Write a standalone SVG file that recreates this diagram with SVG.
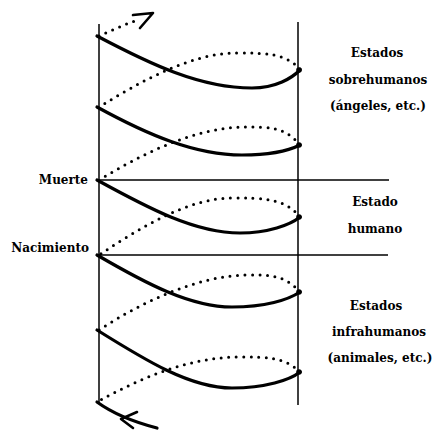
<svg xmlns="http://www.w3.org/2000/svg" width="433" height="430" viewBox="0 0 433 430">
<style>
.bg{fill:#fff}
.ax{stroke:#000;stroke-width:1.5;fill:none}
.hl{stroke:#000;stroke-width:1.3;fill:none}
.front{stroke:#000;stroke-width:3.2;fill:none;stroke-linecap:round;stroke-linejoin:round}
.back{stroke:#000;stroke-width:3;fill:none;stroke-linecap:round;stroke-dasharray:0 7.5}
.dot{fill:#000}
.lbl{font-family:"DejaVu Serif","Liberation Serif",serif;font-weight:bold;font-size:12px;fill:#000}
.c{text-anchor:middle}
.r{text-anchor:end}
</style>
<rect class="bg" x="0" y="0" width="433" height="430"/>
<g id="axes">
<path class="ax" d="M99,24 V402"/>
<path class="ax" d="M298,22 V405"/>
<path class="hl" d="M99,180 H389"/>
<path class="hl" d="M99,255 H388"/>
</g>
<g id="connectors">
<path class="back" d="M99,36 C112,30 126,24 140,19"/>
<path class="front" style="stroke-width:2.6" d="M133,15 L153,13 L140,28"/>
<path class="front" d="M97,36 C150,64 200,88 252,88 C276,88 292,78 300,70"/>
<path class="back" d="M300,69 C285,53 265,53 237,53 C190,53 140,82 99,107"/>
<path class="front" d="M97,107 C148,135 195,155 242,155 C270,155 290,150 300,145"/>
<path class="back" d="M300,145 C285,127 270,127 245,127 C195,127 140,155 99,180"/>
<path class="front" d="M97,180 C148,208 195,233 240,233 C268,233 290,225 300,217"/>
<path class="back" d="M300,217 C285,198 262,198 232,198 C188,198 140,228 99,255"/>
<path class="front" d="M97,255 C145,283 190,307 232,307 C265,307 288,300 300,292"/>
<path class="back" d="M300,292 C285,275 270,275 248,275 C198,275 140,303 99,330"/>
<path class="front" d="M97,330 C145,360 190,388 232,388 C265,388 290,380 300,372"/>
<path class="back" d="M300,372 C285,357 265,357 240,357 C190,357 140,378 99,401"/>
<path class="front" d="M97,402 C108,410 126,420 157,428"/>
<path class="front" style="stroke-width:2.6" d="M137,412 L121,419 L133,428"/>
<circle class="dot" cx="299" cy="70" r="2.8"/>
<circle class="dot" cx="299" cy="145" r="2.8"/>
<circle class="dot" cx="299" cy="217" r="2.8"/>
<circle class="dot" cx="299" cy="292" r="2.8"/>
<circle class="dot" cx="299" cy="372" r="2.8"/>
</g>
<g id="label-muerte"><text class="lbl r" x="88" y="184">Muerte</text></g>
<g id="label-nacimiento"><text class="lbl r" x="89" y="252">Nacimiento</text></g>
<g id="label-sobre">
<text class="lbl c" x="377" y="57">Estados</text>
<text class="lbl c" x="378" y="84">sobrehumanos</text>
<text class="lbl c" x="378" y="110">(ángeles, etc.)</text>
</g>
<g id="label-humano">
<text class="lbl c" x="375" y="206">Estado</text>
<text class="lbl c" x="375" y="233">humano</text>
</g>
<g id="label-infra">
<text class="lbl c" x="376" y="310">Estados</text>
<text class="lbl c" x="379" y="336">infrahumanos</text>
<text class="lbl c" x="380" y="362">(animales, etc.)</text>
</g>
</svg>
